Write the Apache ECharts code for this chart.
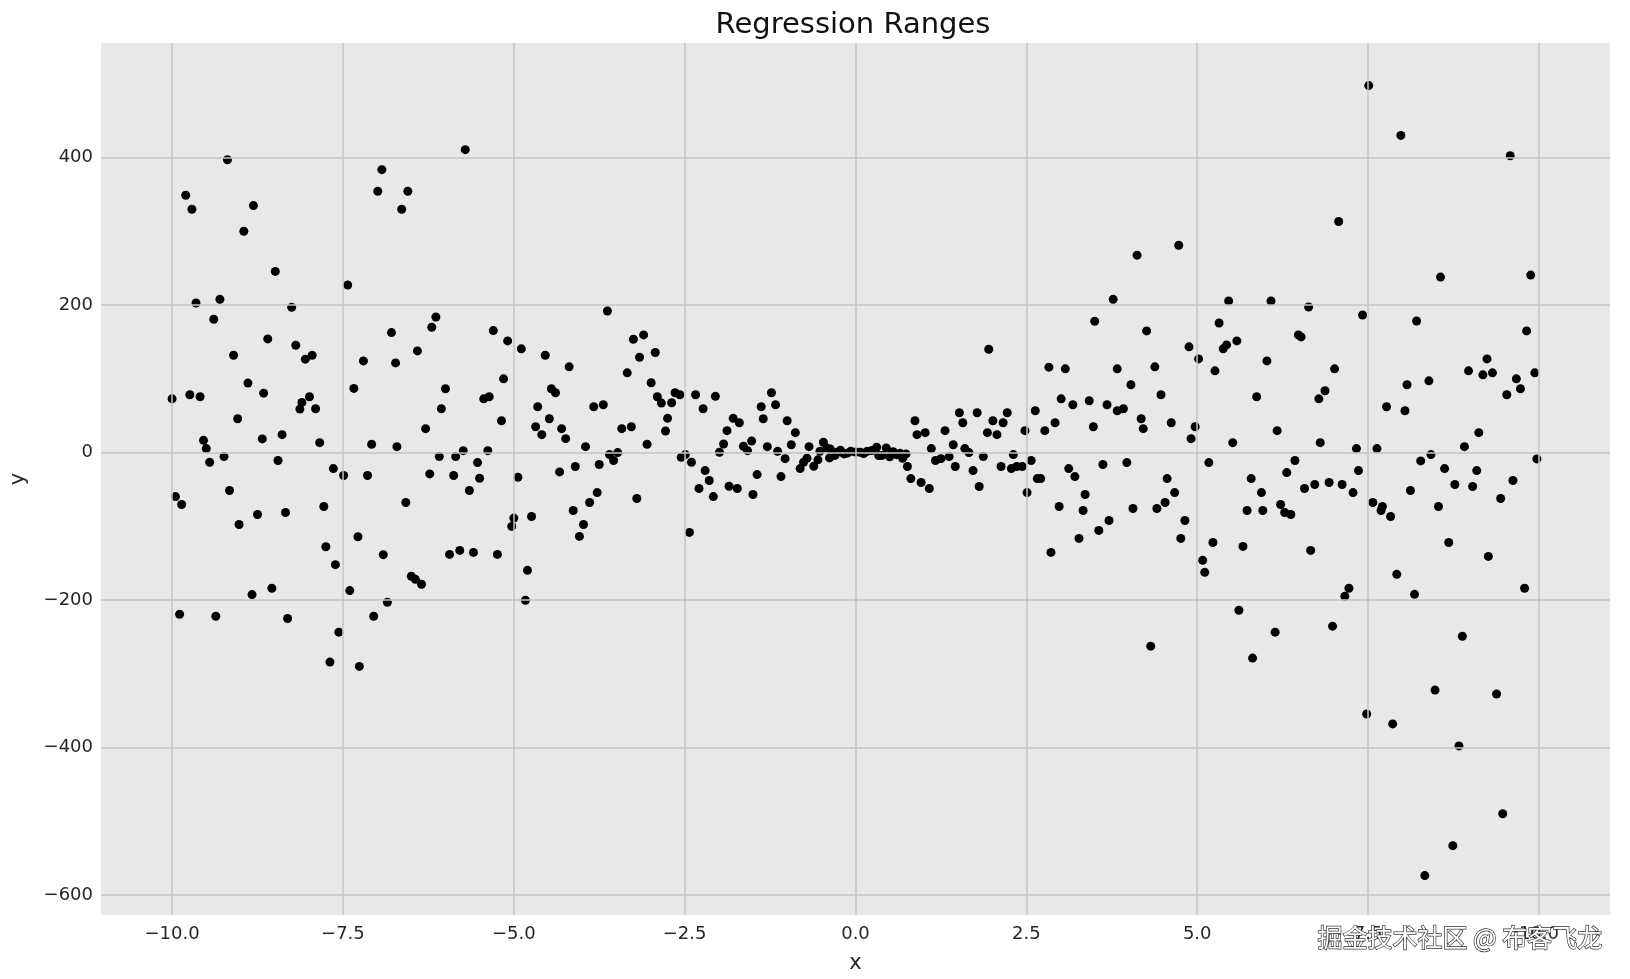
<!DOCTYPE html>
<html>
<head>
<meta charset="utf-8">
<script src="https://cdn.jsdelivr.net/npm/echarts@6/dist/echarts.min.js"></script>
<style>
html,body{margin:0;padding:0;background:#fff;}
#chart{width:1630px;height:979px;}
</style>
</head>
<body>
<div id="chart"></div>
<script>
// ---- data (x, y) ----
const ptsFarLeft = [
[-10.00,72.7],[-9.80,348.6],[-9.71,329.7],[-9.19,396.8],[-8.81,334.6],[-8.95,299.9],[-8.49,245.4],[-7.43,226.9],
[-9.65,202.6],[-9.30,207.5],[-8.25,196.7],[-9.39,180.5],[-8.60,153.9],[-8.19,145.3],[-9.10,131.8],[-7.95,131.8],
[-8.05,126.4],[-8.89,94.0],[-8.66,80.4],[-9.74,78.2],[-9.59,75.5],[-7.99,75.5],[-8.10,67.8],[-8.13,58.8],
[-7.90,59.2],[-9.04,45.7],[-9.54,16.4],[-9.50,5.2],[-8.68,18.3],[-8.39,24.1],[-7.84,13.3],[-9.45,-13.3],
[-9.24,-5.6],[-8.45,-11.0],[-7.64,-21.9],[-7.49,-31.3],[-7.14,-31.3],[-6.93,383.3],[-6.99,354.0],[-6.64,329.7],
[-6.79,162.5],[-7.20,124.1],[-6.73,121.4],[-7.34,86.8],[-7.08,11.1],[-6.71,7.8],
[-9.95,-59.8],[-9.86,-70.6],[-9.16,-51.6],[-9.02,-97.6],[-8.75,-84.1],[-8.34,-81.4],[-7.78,-73.3],[-7.28,-114.3],
[-7.75,-127.8],[-6.91,-138.6],[-7.61,-152.1],[-8.54,-184.1],[-8.83,-192.7],[-7.40,-187.3],[-6.85,-203.1],[-9.89,-219.3],
[-9.36,-222.0],[-8.31,-225.1],[-7.05,-222.0],[-7.56,-243.6],[-7.69,-284.2],[-7.26,-290.0]
];
const ptsMidLeft = [
[-5.71,410.4],[-6.55,354.0],[-3.63,191.7],[-6.14,183.6],[-6.20,169.7],[-6.41,137.6],[-5.30,165.2],[-5.09,151.2],
[-4.89,140.4],[-4.54,131.8],[-4.19,116.0],[-3.25,153.5],[-3.16,129.1],[-3.34,107.9],[-5.15,99.8],[-6.00,86.3],
[-6.06,59.2],[-5.44,72.7],[-5.36,75.5],[-4.45,86.3],[-4.39,80.9],[-4.65,61.9],[-4.48,45.7],[-3.83,61.9],
[-3.69,64.6],[-6.29,32.2],[-5.18,43.0],[-4.68,34.9],[-4.59,24.1],[-4.30,32.2],[-4.24,18.7],[-3.42,32.2],
[-3.28,34.9],[-3.95,7.8],[-6.09,-5.6],[-5.85,-5.6],[-5.74,2.4],[-5.38,2.4],[-5.53,-13.8],[-6.23,-29.1],
[-5.88,-31.3],[-5.50,-35.0],[-4.94,-33.6],[-4.33,-26.4],[-4.10,-19.1],[-3.75,-16.4],[-3.60,-2.9],[-3.54,-11.0],
[-3.48,-0.2],
[-5.65,-51.6],[-6.58,-67.9],[-5.00,-89.0],[-5.03,-100.3],[-4.74,-86.8],[-3.78,-54.4],[-3.89,-67.9],[-4.13,-78.7],
[-3.98,-97.6],[-4.04,-113.8],[-3.20,-62.5],[-5.94,-138.2],[-5.79,-132.8],[-5.59,-135.5],[-5.24,-138.2],[-6.50,-167.9],
[-6.44,-172.0],[-6.35,-178.7],[-4.80,-159.8],[-4.83,-200.4]
];
const ptsCenterLeft = [
[-3.10,159.3],[-2.93,135.4],[-2.99,94.4],[-2.90,75.5],[-2.84,66.9],[-2.69,67.4],[-2.64,80.9],[-2.57,78.2],
[-2.34,78.2],[-2.05,76.0],[-2.23,59.2],[-2.75,46.2],[-2.78,29.1],[-3.05,11.1],[-2.55,-6.5],[-2.49,-2.9],
[-2.40,-13.3],[-2.43,-108.4],[-2.20,-24.6],[-2.14,-38.1],[-2.29,-48.9],[-2.08,-59.8],[-1.85,-45.8],[-1.73,-48.9],
[-1.50,-57.0],[-1.44,-30.0],[-1.09,-32.7],[-1.99,0.2],[-1.93,11.5],[-1.88,29.5],[-1.79,46.2],[-1.70,40.3],
[-1.64,8.4],[-1.58,2.4],[-1.52,15.5],[-1.38,61.9],[-1.35,45.7],[-1.23,80.9],[-1.17,64.6],[-1.29,7.8],
[-1.14,1.5],[-1.03,-8.4],[-1.00,43.0],[-0.88,26.8],[-0.94,10.5],[-0.68,7.8],[-0.81,-21.9],[-0.76,-13.3],
[-0.71,-7.9],[-0.61,-18.7],[-0.47,13.8],[-0.52,1.5],[-0.38,-7.4],[-0.37,4.7],[-0.27,0.2],[-0.17,-2.0],
[-0.07,1.5],[0.07,0.2],[0.17,1.5],[0.31,7.0],[0.34,-4.3],
[-0.55,-10.0],[-0.42,6.0],[-0.30,-4.0],[-0.22,3.0],[-0.12,-1.0],[0.00,0.5],[0.12,-1.5],[0.24,2.5]
];
const ptsCenterRight = [
[3.77,207.5],[3.50,177.8],[1.95,139.9],[2.83,115.6],[3.07,113.3],[3.83,113.3],[3.01,72.7],[3.18,64.6],
[3.42,70.0],[3.68,64.6],[3.83,56.5],[2.63,56.5],[2.92,40.3],[3.48,34.9],[2.77,29.5],[2.48,29.5],
[1.52,53.8],[1.78,53.8],[2.22,53.8],[1.57,40.3],[2.01,43.0],[2.16,40.3],[0.87,43.0],[0.90,24.1],
[1.02,26.8],[1.31,29.5],[1.93,26.8],[2.07,24.1],[1.11,5.2],[1.43,10.5],[1.60,5.2],[1.66,-0.2],
[2.31,-2.9],[1.87,-5.6],[2.57,-11.0],[1.17,-11.0],[1.25,-8.4],[1.37,-5.6],[1.46,-19.1],[1.72,-24.6],
[2.13,-19.1],[2.28,-21.9],[2.36,-19.1],[2.44,-19.1],[0.76,-19.1],[0.81,-35.4],[0.96,-40.8],[1.08,-48.9],
[1.81,-46.2],[2.66,-35.4],[2.71,-35.4],[2.51,-54.4],[3.12,-21.9],[3.21,-32.7],[3.62,-16.4],[3.36,-57.0],
[2.98,-73.3],[3.33,-78.7],[3.71,-92.2],[3.56,-105.7],[3.27,-116.5],[2.86,-135.5],
[0.39,-4.0],[0.45,6.0],[0.50,-6.0],[0.55,1.0],[0.60,-3.0],[0.65,-1.0],[0.69,-8.0],[0.74,-2.0]
];
const ptsMidRight = [
[4.12,267.4],[4.73,280.9],[7.07,313.0],[5.46,205.3],[6.08,205.3],[6.63,197.1],[5.32,175.5],[4.26,164.7],
[4.88,143.1],[5.02,126.8],[5.38,140.4],[5.43,145.8],[5.58,151.2],[6.48,159.3],[6.52,156.6],[6.02,124.1],
[7.01,113.3],[5.26,110.6],[4.38,116.0],[4.03,91.7],[4.47,78.2],[5.87,75.5],[6.87,83.6],[6.78,72.7],
[3.92,59.2],[4.18,45.7],[4.21,32.2],[4.62,40.3],[4.97,34.9],[4.91,18.7],[5.52,13.3],[6.17,29.5],
[6.80,13.3],[3.97,-13.8],[5.17,-13.8],[6.43,-11.0],[6.31,-27.3],[5.79,-35.4],[4.56,-35.4],[4.67,-54.4],
[4.53,-67.9],[4.41,-76.0],[4.06,-76.0],[4.82,-92.2],[4.76,-116.5],[5.94,-54.4],[5.73,-78.7],[5.96,-78.7],
[6.22,-70.6],[6.28,-81.4],[6.37,-84.1],[6.57,-48.9],[6.72,-43.5],[6.93,-40.8],[7.12,-43.5],[5.23,-122.0],
[5.67,-127.4],[6.66,-132.8],[5.08,-146.3],[5.11,-162.5],[5.61,-213.9],[6.14,-243.6],[6.98,-235.5],[4.32,-262.6],
[5.81,-278.8]
];
const ptsFarRight = [
[7.51,497.3],[7.98,429.7],[9.58,402.2],[8.56,237.7],[9.88,240.4],[7.42,186.3],[8.21,178.2],[9.82,164.7],
[9.24,126.8],[8.97,110.6],[9.18,105.2],[9.32,107.9],[9.94,107.9],[9.67,99.8],[9.73,86.3],[9.53,78.2],
[8.07,91.7],[8.39,97.1],[7.77,61.9],[8.04,56.5],[9.12,26.8],[7.33,5.2],[7.63,5.2],[8.91,7.8],
[8.27,-11.5],[8.42,-2.9],[9.97,-8.8],[7.36,-24.6],[8.62,-21.9],[9.09,-24.6],[9.62,-38.1],[7.28,-54.4],
[7.57,-67.9],[7.71,-73.3],[7.69,-78.7],[7.83,-86.8],[8.12,-51.6],[8.77,-43.5],[9.03,-46.2],[9.44,-62.5],
[8.53,-73.3],[8.68,-122.0],[9.26,-140.9],[7.92,-165.2],[7.22,-184.1],[7.16,-195.0],[8.18,-192.3],[9.79,-184.1],
[8.88,-249.1],[8.48,-322.1],[9.38,-327.5],[7.48,-354.5],[7.86,-368.0],[8.83,-397.8],[9.47,-489.7],[8.74,-533.0],
[8.33,-573.6]
];

const xTicks = [-10, -7.5, -5, -2.5, 0, 2.5, 5, 7.5, 10];
const yTicks = [-600, -400, -200, 0, 200, 400];
const xRange = [-11.04, 11.04];
const yRange = [-627, 555];

const titleText = 'Regression Ranges';
const xName = 'x';
const yName = 'y';
const watermark = '掘金技术社区 @ 布客飞龙';

const allPts = [].concat(ptsFarLeft, ptsMidLeft, ptsCenterLeft, ptsCenterRight, ptsMidRight, ptsFarRight);

const fmtX = v => (v < 0 ? '\u2212' : '') + Math.abs(v).toFixed(1);
const fmtY = v => (v < 0 ? '\u2212' : '') + Math.abs(v).toFixed(0);

const FONT = 'DejaVu Sans';
const chart = echarts.init(document.getElementById('chart'), null, {renderer: 'canvas'});
chart.setOption({
  animation: false,
  backgroundColor: '#ffffff',
  textStyle: {fontFamily: FONT},
  title: {
    text: titleText,
    left: 848,
    textAlign: 'center',
    top: 6,
    textStyle: {fontFamily: FONT, fontSize: 29, fontWeight: 'normal', color: '#111111'}
  },
  grid: {
    left: 100, top: 43, right: 20, bottom: 61,
    show: true, backgroundColor: '#e8e8e8', borderWidth: 0
  },
  xAxis: {
    type: 'value', min: xRange[0], max: xRange[1],
    axisLine: {show: false}, axisTick: {show: false}, splitLine: {show: false},
    axisLabel: {customValues: xTicks, formatter: fmtX, fontFamily: FONT, fontSize: 18, color: '#262626', margin: 10},
    name: xName, nameLocation: 'middle', nameGap: 38,
    nameTextStyle: {fontFamily: FONT, fontSize: 21, color: '#262626'}
  },
  yAxis: {
    type: 'value', min: yRange[0], max: yRange[1],
    axisLine: {show: false}, axisTick: {show: false}, splitLine: {show: false},
    axisLabel: {customValues: yTicks, formatter: fmtY, fontFamily: FONT, fontSize: 18, color: '#262626', margin: 8},
    name: yName, nameLocation: 'middle', nameGap: 72, nameRotate: 90,
    nameTextStyle: {fontFamily: FONT, fontSize: 21, color: '#262626'}
  },
  series: [
    {
      type: 'scatter', data: [], z: 1, silent: true,
      markLine: {
        silent: true, symbol: 'none', animation: false,
        label: {show: false}, emphasis: {disabled: true},
        lineStyle: {color: '#c4c4c4', width: 1.5, type: 'solid'},
        data: xTicks.map(v => ({xAxis: v})).concat(yTicks.map(v => ({yAxis: v})))
      }
    },
    {
      type: 'scatter', z: 3, symbol: 'circle', symbolSize: 9,
      itemStyle: {color: '#000000', opacity: 1},
      data: allPts
    }
  ],
  graphic: [{
    type: 'text', right: 27, top: 924, z: 100, silent: true,
    style: {text: watermark, font: '25px "Noto Sans CJK SC"', fill: '#ffffff', stroke: '#333333', lineWidth: 1.4}
  }]
});
</script>
</body>
</html>
